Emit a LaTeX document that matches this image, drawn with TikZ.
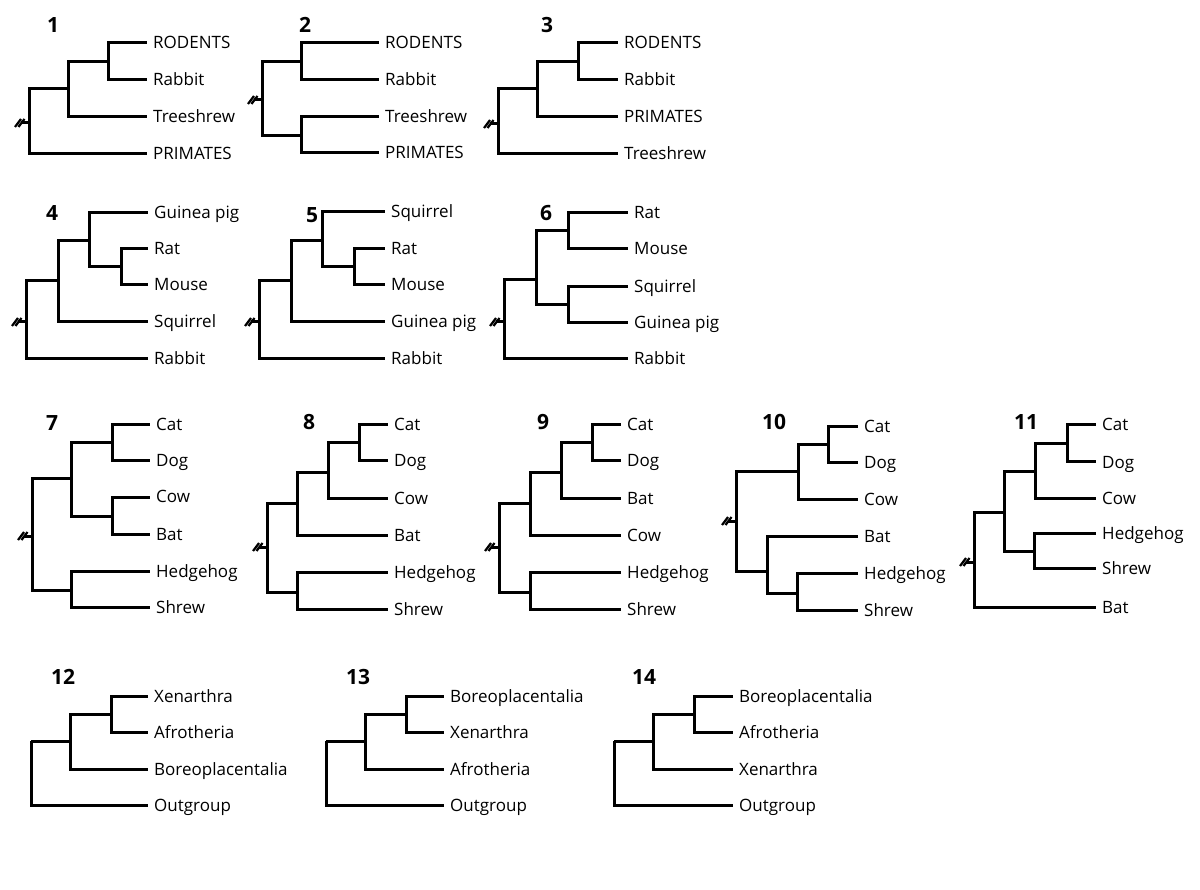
\documentclass[tikz,border=0pt]{standalone}
\usepackage{fontspec}
\setmainfont{Open Sans}
\usetikzlibrary{calc}

\tikzset{
  branchline/.style={line width=3pt},
  cutmark/.style={line width=2.2pt},
  taxon/.style={anchor=west, inner xsep=6pt, inner ysep=0pt, text height=12pt, text depth=0pt,
    font=\fontsize{17}{20}\selectfont},
  treenum/.style={font=\fontsize{21}{24}\selectfont\bfseries}
}

\begin{document}
\begin{tikzpicture}[x=1pt, y=-1pt]
    % Page size of the figure
    \useasboundingbox (0,0) rectangle (1200,890);
    % Broken root stem drawn left of a root
    \def\rootcut#1{%
        \draw[branchline] (#1) -- ++(-8,0);
        \draw[cutmark] ($(#1)+(-14,4)$) -- ++(6,-8) ($(#1)+(-10.5,4)$) -- ++(6,-8);
    }

    % ---- Row 1: Glires, Treeshrew, Primates ----
    % Tree 1
    \node[treenum] (num1) at (53,25) {1};
    \foreach \y/\id/\txt in {43/rod/RODENTS, 80/rab/Rabbit, 117/tre/Treeshrew, 154/pri/PRIMATES}
        \node[taxon] (t1-\id) at (147,\y) {\txt};
    \coordinate (t1-a) at (108,62);
    \coordinate (t1-b) at (68,89);
    \coordinate (t1-r) at (29,123);
    \draw[branchline] (t1-a) |- (t1-rod.west) (t1-a) |- (t1-rab.west);
    \draw[branchline] (t1-b) |- (t1-a) (t1-b) |- (t1-tre.west);
    \draw[branchline] (t1-r) |- (t1-b) (t1-r) |- (t1-pri.west);
    \rootcut{t1-r}

    % Tree 2
    \node[treenum] (num2) at (305,25) {2};
    \foreach \y/\id/\txt in {43/rod/RODENTS, 80/rab/Rabbit, 117/tre/Treeshrew, 153/pri/PRIMATES}
        \node[taxon] (t2-\id) at (379,\y) {\txt};
    \coordinate (t2-a) at (301,62);
    \coordinate (t2-b) at (301,136);
    \coordinate (t2-r) at (262,100);
    \draw[branchline] (t2-a) |- (t2-rod.west) (t2-a) |- (t2-rab.west);
    \draw[branchline] (t2-b) |- (t2-tre.west) (t2-b) |- (t2-pri.west);
    \draw[branchline] (t2-r) |- (t2-a) (t2-r) |- (t2-b);
    \rootcut{t2-r}

    % Tree 3
    \node[treenum] (num3) at (547,25) {3};
    \foreach \y/\id/\txt in {43/rod/RODENTS, 80/rab/Rabbit, 117/pri/PRIMATES, 154/tre/Treeshrew}
        \node[taxon] (t3-\id) at (618,\y) {\txt};
    \coordinate (t3-a) at (578,62);
    \coordinate (t3-b) at (537,89);
    \coordinate (t3-r) at (498,124);
    \draw[branchline] (t3-a) |- (t3-rod.west) (t3-a) |- (t3-rab.west);
    \draw[branchline] (t3-b) |- (t3-a) (t3-b) |- (t3-pri.west);
    \draw[branchline] (t3-r) |- (t3-b) (t3-r) |- (t3-tre.west);
    \rootcut{t3-r}

    % ---- Row 2: Rodents ----
    % Tree 4
    \node[treenum] (num4) at (52,213) {4};
    \foreach \y/\id/\txt in {213/gui/Guinea pig, 249/rat/Rat, 285/mou/Mouse, 322/squ/Squirrel, 359/rab/Rabbit}
        \node[taxon] (t4-\id) at (148,\y) {\txt};
    \coordinate (t4-a) at (121,267);
    \coordinate (t4-b) at (89,241);
    \coordinate (t4-c) at (58,281);
    \coordinate (t4-r) at (26,322);
    \draw[branchline] (t4-a) |- (t4-rat.west) (t4-a) |- (t4-mou.west);
    \draw[branchline] (t4-b) |- (t4-gui.west) (t4-b) |- (t4-a);
    \draw[branchline] (t4-c) |- (t4-b) (t4-c) |- (t4-squ.west);
    \draw[branchline] (t4-r) |- (t4-c) (t4-r) |- (t4-rab.west);
    \rootcut{t4-r}

    % Tree 5
    \node[treenum] (num5) at (312,215) {5};
    \foreach \y/\id/\txt in {212/squ/Squirrel, 249/rat/Rat, 285/mou/Mouse, 322/gui/Guinea pig, 359/rab/Rabbit}
        \node[taxon] (t5-\id) at (385,\y) {\txt};
    \coordinate (t5-a) at (354,267);
    \coordinate (t5-b) at (322,241);
    \coordinate (t5-c) at (291,281);
    \coordinate (t5-r) at (259,322);
    \draw[branchline] (t5-a) |- (t5-rat.west) (t5-a) |- (t5-mou.west);
    \draw[branchline] (t5-b) |- (t5-squ.west) (t5-b) |- (t5-a);
    \draw[branchline] (t5-c) |- (t5-b) (t5-c) |- (t5-gui.west);
    \draw[branchline] (t5-r) |- (t5-c) (t5-r) |- (t5-rab.west);
    \rootcut{t5-r}

    % Tree 6
    \node[treenum] (num6) at (546,213) {6};
    \foreach \y/\id/\txt in {213/rat/Rat, 249/mou/Mouse, 287/squ/Squirrel, 323/gui/Guinea pig, 359/rab/Rabbit}
        \node[taxon] (t6-\id) at (628,\y) {\txt};
    \coordinate (t6-a) at (568,231);
    \coordinate (t6-b) at (568,305);
    \coordinate (t6-c) at (536,280);
    \coordinate (t6-r) at (504,322);
    \draw[branchline] (t6-a) |- (t6-rat.west) (t6-a) |- (t6-mou.west);
    \draw[branchline] (t6-b) |- (t6-squ.west) (t6-b) |- (t6-gui.west);
    \draw[branchline] (t6-c) |- (t6-a) (t6-c) |- (t6-b);
    \draw[branchline] (t6-r) |- (t6-c) (t6-r) |- (t6-rab.west);
    \rootcut{t6-r}

    % ---- Row 3: Laurasiatheria ----
    % Tree 7
    \node[treenum] (num7) at (52,423) {7};
    \foreach \y/\id/\txt in {425/cat/Cat, 461/dog/Dog, 497/cow/Cow, 534/bat/Bat, 571/hed/Hedgehog, 607/shr/Shrew}
        \node[taxon] (t7-\id) at (150,\y) {\txt};
    \coordinate (t7-a) at (112,443);
    \coordinate (t7-b) at (112,516);
    \coordinate (t7-c) at (71,479);
    \coordinate (t7-d) at (71,590);
    \coordinate (t7-r) at (32,536);
    \draw[branchline] (t7-a) |- (t7-cat.west) (t7-a) |- (t7-dog.west);
    \draw[branchline] (t7-b) |- (t7-cow.west) (t7-b) |- (t7-bat.west);
    \draw[branchline] (t7-c) |- (t7-a) (t7-c) |- (t7-b);
    \draw[branchline] (t7-d) |- (t7-hed.west) (t7-d) |- (t7-shr.west);
    \draw[branchline] (t7-r) |- (t7-c) (t7-r) |- (t7-d);
    \rootcut{t7-r}

    % Tree 8
    \node[treenum] (num8) at (309,422) {8};
    \foreach \y/\id/\txt in {425/cat/Cat, 461/dog/Dog, 498/cow/Cow, 535/bat/Bat, 572/hed/Hedgehog, 609/shr/Shrew}
        \node[taxon] (t8-\id) at (388,\y) {\txt};
    \coordinate (t8-a) at (359,443);
    \coordinate (t8-b) at (328,473);
    \coordinate (t8-c) at (297,503);
    \coordinate (t8-d) at (297,592);
    \coordinate (t8-r) at (267,547);
    \draw[branchline] (t8-a) |- (t8-cat.west) (t8-a) |- (t8-dog.west);
    \draw[branchline] (t8-b) |- (t8-a) (t8-b) |- (t8-cow.west);
    \draw[branchline] (t8-c) |- (t8-b) (t8-c) |- (t8-bat.west);
    \draw[branchline] (t8-d) |- (t8-hed.west) (t8-d) |- (t8-shr.west);
    \draw[branchline] (t8-r) |- (t8-c) (t8-r) |- (t8-d);
    \rootcut{t8-r}

    % Tree 9
    \node[treenum] (num9) at (543,422) {9};
    \foreach \y/\id/\txt in {425/cat/Cat, 461/dog/Dog, 498/bat/Bat, 535/cow/Cow, 572/hed/Hedgehog, 609/shr/Shrew}
        \node[taxon] (t9-\id) at (621,\y) {\txt};
    \coordinate (t9-a) at (592,443);
    \coordinate (t9-b) at (561,473);
    \coordinate (t9-c) at (530,503);
    \coordinate (t9-d) at (530,592);
    \coordinate (t9-r) at (499,547);
    \draw[branchline] (t9-a) |- (t9-cat.west) (t9-a) |- (t9-dog.west);
    \draw[branchline] (t9-b) |- (t9-a) (t9-b) |- (t9-bat.west);
    \draw[branchline] (t9-c) |- (t9-b) (t9-c) |- (t9-cow.west);
    \draw[branchline] (t9-d) |- (t9-hed.west) (t9-d) |- (t9-shr.west);
    \draw[branchline] (t9-r) |- (t9-c) (t9-r) |- (t9-d);
    \rootcut{t9-r}

    % Tree 10
    \node[treenum] (num10) at (774,422) {10};
    \foreach \y/\id/\txt in {427/cat/Cat, 463/dog/Dog, 499/cow/Cow, 536/bat/Bat, 573/hed/Hedgehog, 610/shr/Shrew}
        \node[taxon] (t10-\id) at (858,\y) {\txt};
    \coordinate (t10-a) at (828,445);
    \coordinate (t10-b) at (798,472);
    \coordinate (t10-c) at (797,593);
    \coordinate (t10-d) at (767,571);
    \coordinate (t10-r) at (736,521);
    \draw[branchline] (t10-a) |- (t10-cat.west) (t10-a) |- (t10-dog.west);
    \draw[branchline] (t10-b) |- (t10-a) (t10-b) |- (t10-cow.west);
    \draw[branchline] (t10-c) |- (t10-hed.west) (t10-c) |- (t10-shr.west);
    \draw[branchline] (t10-d) |- (t10-bat.west) (t10-d) |- (t10-c);
    \draw[branchline] (t10-r) |- (t10-b) (t10-r) |- (t10-d);
    \rootcut{t10-r}

    % Tree 11
    \node[treenum] (num11) at (1026,422) {11};
    \foreach \y/\id/\txt in {425/cat/Cat, 462/dog/Dog, 498/cow/Cow, 533/hed/Hedgehog, 568/shr/Shrew, 607/bat/Bat}
        \node[taxon] (t11-\id) at (1096,\y) {\txt};
    \coordinate (t11-a) at (1067,444);
    \coordinate (t11-b) at (1035,472);
    \coordinate (t11-c) at (1034,551);
    \coordinate (t11-d) at (1004,512);
    \coordinate (t11-r) at (974,562);
    \draw[branchline] (t11-a) |- (t11-cat.west) (t11-a) |- (t11-dog.west);
    \draw[branchline] (t11-b) |- (t11-a) (t11-b) |- (t11-cow.west);
    \draw[branchline] (t11-c) |- (t11-hed.west) (t11-c) |- (t11-shr.west);
    \draw[branchline] (t11-d) |- (t11-b) (t11-d) |- (t11-c);
    \draw[branchline] (t11-r) |- (t11-d) (t11-r) |- (t11-bat.west);
    \rootcut{t11-r}

    % ---- Row 4: placental root ----
    % Tree 12
    \node[treenum] (num12) at (63,677) {12};
    \foreach \y/\id/\txt in {696/xen/Xenarthra, 732/afr/Afrotheria, 769/bor/Boreoplacentalia, 805/out/Outgroup}
        \node[taxon] (t12-\id) at (148,\y) {\txt};
    \coordinate (t12-a) at (111,714);
    \coordinate (t12-b) at (70,741);
    \coordinate (t12-r) at (31,741);
    \draw[branchline] (t12-a) |- (t12-xen.west) (t12-a) |- (t12-afr.west);
    \draw[branchline] (t12-b) |- (t12-a) (t12-b) |- (t12-bor.west);
    \draw[branchline] (t12-r) -- (t12-b) (t12-r) |- (t12-out.west);

    % Tree 13
    \node[treenum] (num13) at (358,677) {13};
    \foreach \y/\id/\txt in {696/bor/Boreoplacentalia, 732/xen/Xenarthra, 769/afr/Afrotheria, 805/out/Outgroup}
        \node[taxon] (t13-\id) at (444,\y) {\txt};
    \coordinate (t13-a) at (406,714);
    \coordinate (t13-b) at (365,741);
    \coordinate (t13-r) at (326,741);
    \draw[branchline] (t13-a) |- (t13-bor.west) (t13-a) |- (t13-xen.west);
    \draw[branchline] (t13-b) |- (t13-a) (t13-b) |- (t13-afr.west);
    \draw[branchline] (t13-r) -- (t13-b) (t13-r) |- (t13-out.west);

    % Tree 14
    \node[treenum] (num14) at (644,677) {14};
    \foreach \y/\id/\txt in {696/bor/Boreoplacentalia, 732/afr/Afrotheria, 769/xen/Xenarthra, 805/out/Outgroup}
        \node[taxon] (t14-\id) at (733,\y) {\txt};
    \coordinate (t14-a) at (694,714);
    \coordinate (t14-b) at (653,741);
    \coordinate (t14-r) at (614,741);
    \draw[branchline] (t14-a) |- (t14-bor.west) (t14-a) |- (t14-afr.west);
    \draw[branchline] (t14-b) |- (t14-a) (t14-b) |- (t14-xen.west);
    \draw[branchline] (t14-r) -- (t14-b) (t14-r) |- (t14-out.west);
\end{tikzpicture}
\end{document}
